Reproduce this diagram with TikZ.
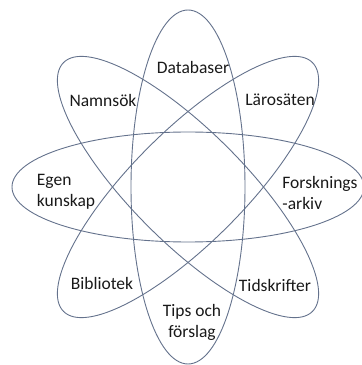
\documentclass[tikz,border=0pt]{standalone}
\usepackage{fontspec}
\setmainfont{Carlito}
\usepackage{tikz}
\usetikzlibrary{positioning}
\definecolor{orbitcol}{RGB}{100,114,140}
\definecolor{txt}{RGB}{25,25,25}

\begin{document}
\begin{tikzpicture}[x=1pt, y=1pt,
  orbit/.style={draw=orbitcol, line width=0.9pt},
  lbl/.style={font=\fontsize{17.5}{21}\selectfont, text=txt, inner sep=0pt},
]
  \useasboundingbox (0,0) rectangle (362,365);
  \coordinate (c) at (188,178);

  % the four orbits
  \draw[orbit] (c) ellipse [x radius=176, y radius=55];
  \draw[orbit, rotate around={90:(c)}] (c) ellipse [x radius=177, y radius=57];
  \draw[orbit, rotate around={45:(c)}] (c) ellipse [x radius=176, y radius=56];
  \draw[orbit, rotate around={-45:(c)}] (c) ellipse [x radius=176, y radius=56];

  \node[lbl] (db) at (193,298) {Databaser};
  \node[lbl] (ns) at (103,265) {Namnsök};
  \node[lbl] (ls) at (280,265) {Lärosäten};
  \node[lbl, align=left] (ek) at (66,173) {Egen\\kunskap};
  \node[lbl, align=left] (fa) at (320,172) {Forsknings\\-arkiv};
  \node[lbl] (bi) at (102,82) {Bibliotek};
  \node[lbl] (ti) at (275,80) {Tidskrifter};
  \node[lbl, align=center] (tf) at (192,43) {Tips och\\förslag};
\end{tikzpicture}
\end{document}
